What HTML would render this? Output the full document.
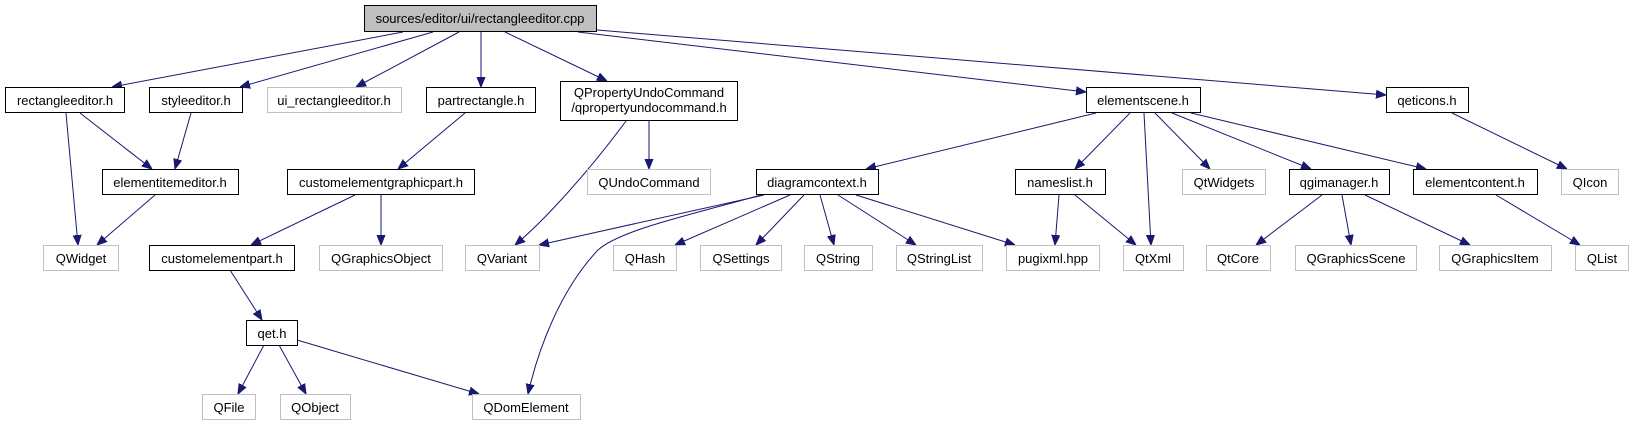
<!DOCTYPE html>
<html><head><meta charset="utf-8"><style>
html,body{margin:0;padding:0;background:#fff;}
svg{display:block;}
text{font-family:"Liberation Sans",Helvetica,Arial,sans-serif;font-size:13px;fill:#000;text-anchor:middle;}
.b{fill:#fff;stroke:#000;stroke-width:1;}
.g{fill:#fff;stroke:#bfbfbf;stroke-width:1;}
.e{fill:none;stroke:#191970;stroke-width:1;}
</style></head><body>
<svg width="1634" height="425" viewBox="0 0 1634 425" xmlns="http://www.w3.org/2000/svg">
<defs><marker id="a" viewBox="0 0 10 10" refX="10" refY="5" markerWidth="10" markerHeight="10" markerUnits="userSpaceOnUse" orient="auto"><path d="M0,1 L10,5 L0,9 z" fill="#191970" stroke="#191970"/></marker></defs>
<g marker-end="url(#a)">
<path class="e" d="M403,32 L112,87"/>
<path class="e" d="M433,32 L240,87"/>
<path class="e" d="M459,32 L356,87"/>
<path class="e" d="M481,32 L481,87"/>
<path class="e" d="M505,32 L607,81"/>
<path class="e" d="M578,32 L1086,92"/>
<path class="e" d="M597,30 L1386,95"/>
<path class="e" d="M66,113 L78,245"/>
<path class="e" d="M80,113 L152,169"/>
<path class="e" d="M191,113 L175,169"/>
<path class="e" d="M155,195 L97,245"/>
<path class="e" d="M465,113 L398,169"/>
<path class="e" d="M626,121 C590,170 545,220 515,245"/>
<path class="e" d="M649,121 L649,169"/>
<path class="e" d="M355,195 L251,245"/>
<path class="e" d="M381,195 L381,245"/>
<path class="e" d="M230,270 L262,320"/>
<path class="e" d="M264,345 L238,394"/>
<path class="e" d="M279,345 L306,394"/>
<path class="e" d="M297,340 L479,394"/>
<path class="e" d="M764,195 L539,245"/>
<path class="e" d="M761,195 C690,215 620,230 598,250 C560,290 538,350 528,394"/>
<path class="e" d="M790,195 L675,245"/>
<path class="e" d="M804,195 L756,245"/>
<path class="e" d="M820,195 L834,245"/>
<path class="e" d="M838,195 L916,245"/>
<path class="e" d="M856,195 L1015,245"/>
<path class="e" d="M1096,113 L866,169"/>
<path class="e" d="M1130,113 L1075,169"/>
<path class="e" d="M1144,113 L1151,245"/>
<path class="e" d="M1155,113 L1210,169"/>
<path class="e" d="M1172,113 L1311,169"/>
<path class="e" d="M1191,113 L1426,169"/>
<path class="e" d="M1452,113 L1567,169"/>
<path class="e" d="M1059,195 L1055,245"/>
<path class="e" d="M1075,195 L1136,245"/>
<path class="e" d="M1322,195 L1256,245"/>
<path class="e" d="M1342,195 L1351,245"/>
<path class="e" d="M1365,195 L1470,245"/>
<path class="e" d="M1496,195 L1580,245"/>
</g>
<rect x="364.5" y="5.5" width="232" height="26" fill="#bfbfbf" stroke="#000"/><text x="480" y="23">sources/editor/ui/rectangleeditor.cpp</text>
<rect class="b" x="5.5" y="87.5" width="119" height="25"/><text x="65" y="105">rectangleeditor.h</text>
<rect class="b" x="149.5" y="87.5" width="93" height="25"/><text x="196" y="105">styleeditor.h</text>
<rect class="g" x="267.5" y="87.5" width="134" height="25"/><text x="334" y="105" style="fill:#000">ui_rectangleeditor.h</text>
<rect class="b" x="426.5" y="87.5" width="109" height="25"/><text x="481" y="105">partrectangle.h</text>
<rect class="b" x="560.5" y="81.5" width="177" height="39"/><text x="649" y="97">QPropertyUndoCommand</text><text x="649" y="112">/qpropertyundocommand.h</text>
<rect class="b" x="1086.5" y="87.5" width="114" height="25"/><text x="1143" y="105">elementscene.h</text>
<rect class="b" x="1386.5" y="87.5" width="82" height="25"/><text x="1427" y="105">qeticons.h</text>
<rect class="b" x="102.5" y="169.5" width="136" height="25"/><text x="170" y="187">elementitemeditor.h</text>
<rect class="b" x="287.5" y="169.5" width="187" height="25"/><text x="381" y="187">customelementgraphicpart.h</text>
<rect class="g" x="587.5" y="169.5" width="123" height="25"/><text x="649" y="187">QUndoCommand</text>
<rect class="b" x="756.5" y="169.5" width="122" height="25"/><text x="817" y="187">diagramcontext.h</text>
<rect class="b" x="1015.5" y="169.5" width="90" height="25"/><text x="1060" y="187">nameslist.h</text>
<rect class="g" x="1182.5" y="169.5" width="83" height="25"/><text x="1224" y="187">QtWidgets</text>
<rect class="b" x="1289.5" y="169.5" width="100" height="25"/><text x="1339" y="187">qgimanager.h</text>
<rect class="b" x="1413.5" y="169.5" width="124" height="25"/><text x="1475" y="187">elementcontent.h</text>
<rect class="g" x="1561.5" y="169.5" width="57" height="25"/><text x="1590" y="187">QIcon</text>
<rect class="g" x="43.5" y="245.5" width="75" height="25"/><text x="81" y="263">QWidget</text>
<rect class="b" x="149.5" y="245.5" width="145" height="25"/><text x="222" y="263">customelementpart.h</text>
<rect class="g" x="319.5" y="245.5" width="123" height="25"/><text x="381" y="263">QGraphicsObject</text>
<rect class="g" x="465.5" y="245.5" width="74" height="25"/><text x="502" y="263">QVariant</text>
<rect class="g" x="613.5" y="245.5" width="63" height="25"/><text x="645" y="263">QHash</text>
<rect class="g" x="700.5" y="245.5" width="81" height="25"/><text x="741" y="263">QSettings</text>
<rect class="g" x="804.5" y="245.5" width="68" height="25"/><text x="838" y="263">QString</text>
<rect class="g" x="896.5" y="245.5" width="86" height="25"/><text x="939" y="263">QStringList</text>
<rect class="g" x="1006.5" y="245.5" width="93" height="25"/><text x="1053" y="263">pugixml.hpp</text>
<rect class="g" x="1123.5" y="245.5" width="60" height="25"/><text x="1153" y="263">QtXml</text>
<rect class="g" x="1206.5" y="245.5" width="64" height="25"/><text x="1238" y="263">QtCore</text>
<rect class="g" x="1295.5" y="245.5" width="121" height="25"/><text x="1356" y="263">QGraphicsScene</text>
<rect class="g" x="1439.5" y="245.5" width="112" height="25"/><text x="1495" y="263">QGraphicsItem</text>
<rect class="g" x="1575.5" y="245.5" width="53" height="25"/><text x="1602" y="263">QList</text>
<rect class="b" x="246.5" y="320.5" width="51" height="25"/><text x="272" y="338">qet.h</text>
<rect class="g" x="202.5" y="394.5" width="53" height="25"/><text x="229" y="412">QFile</text>
<rect class="g" x="280.5" y="394.5" width="70" height="25"/><text x="315" y="412">QObject</text>
<rect class="g" x="472.5" y="394.5" width="108" height="25"/><text x="526" y="412">QDomElement</text>
</svg>
</body></html>
